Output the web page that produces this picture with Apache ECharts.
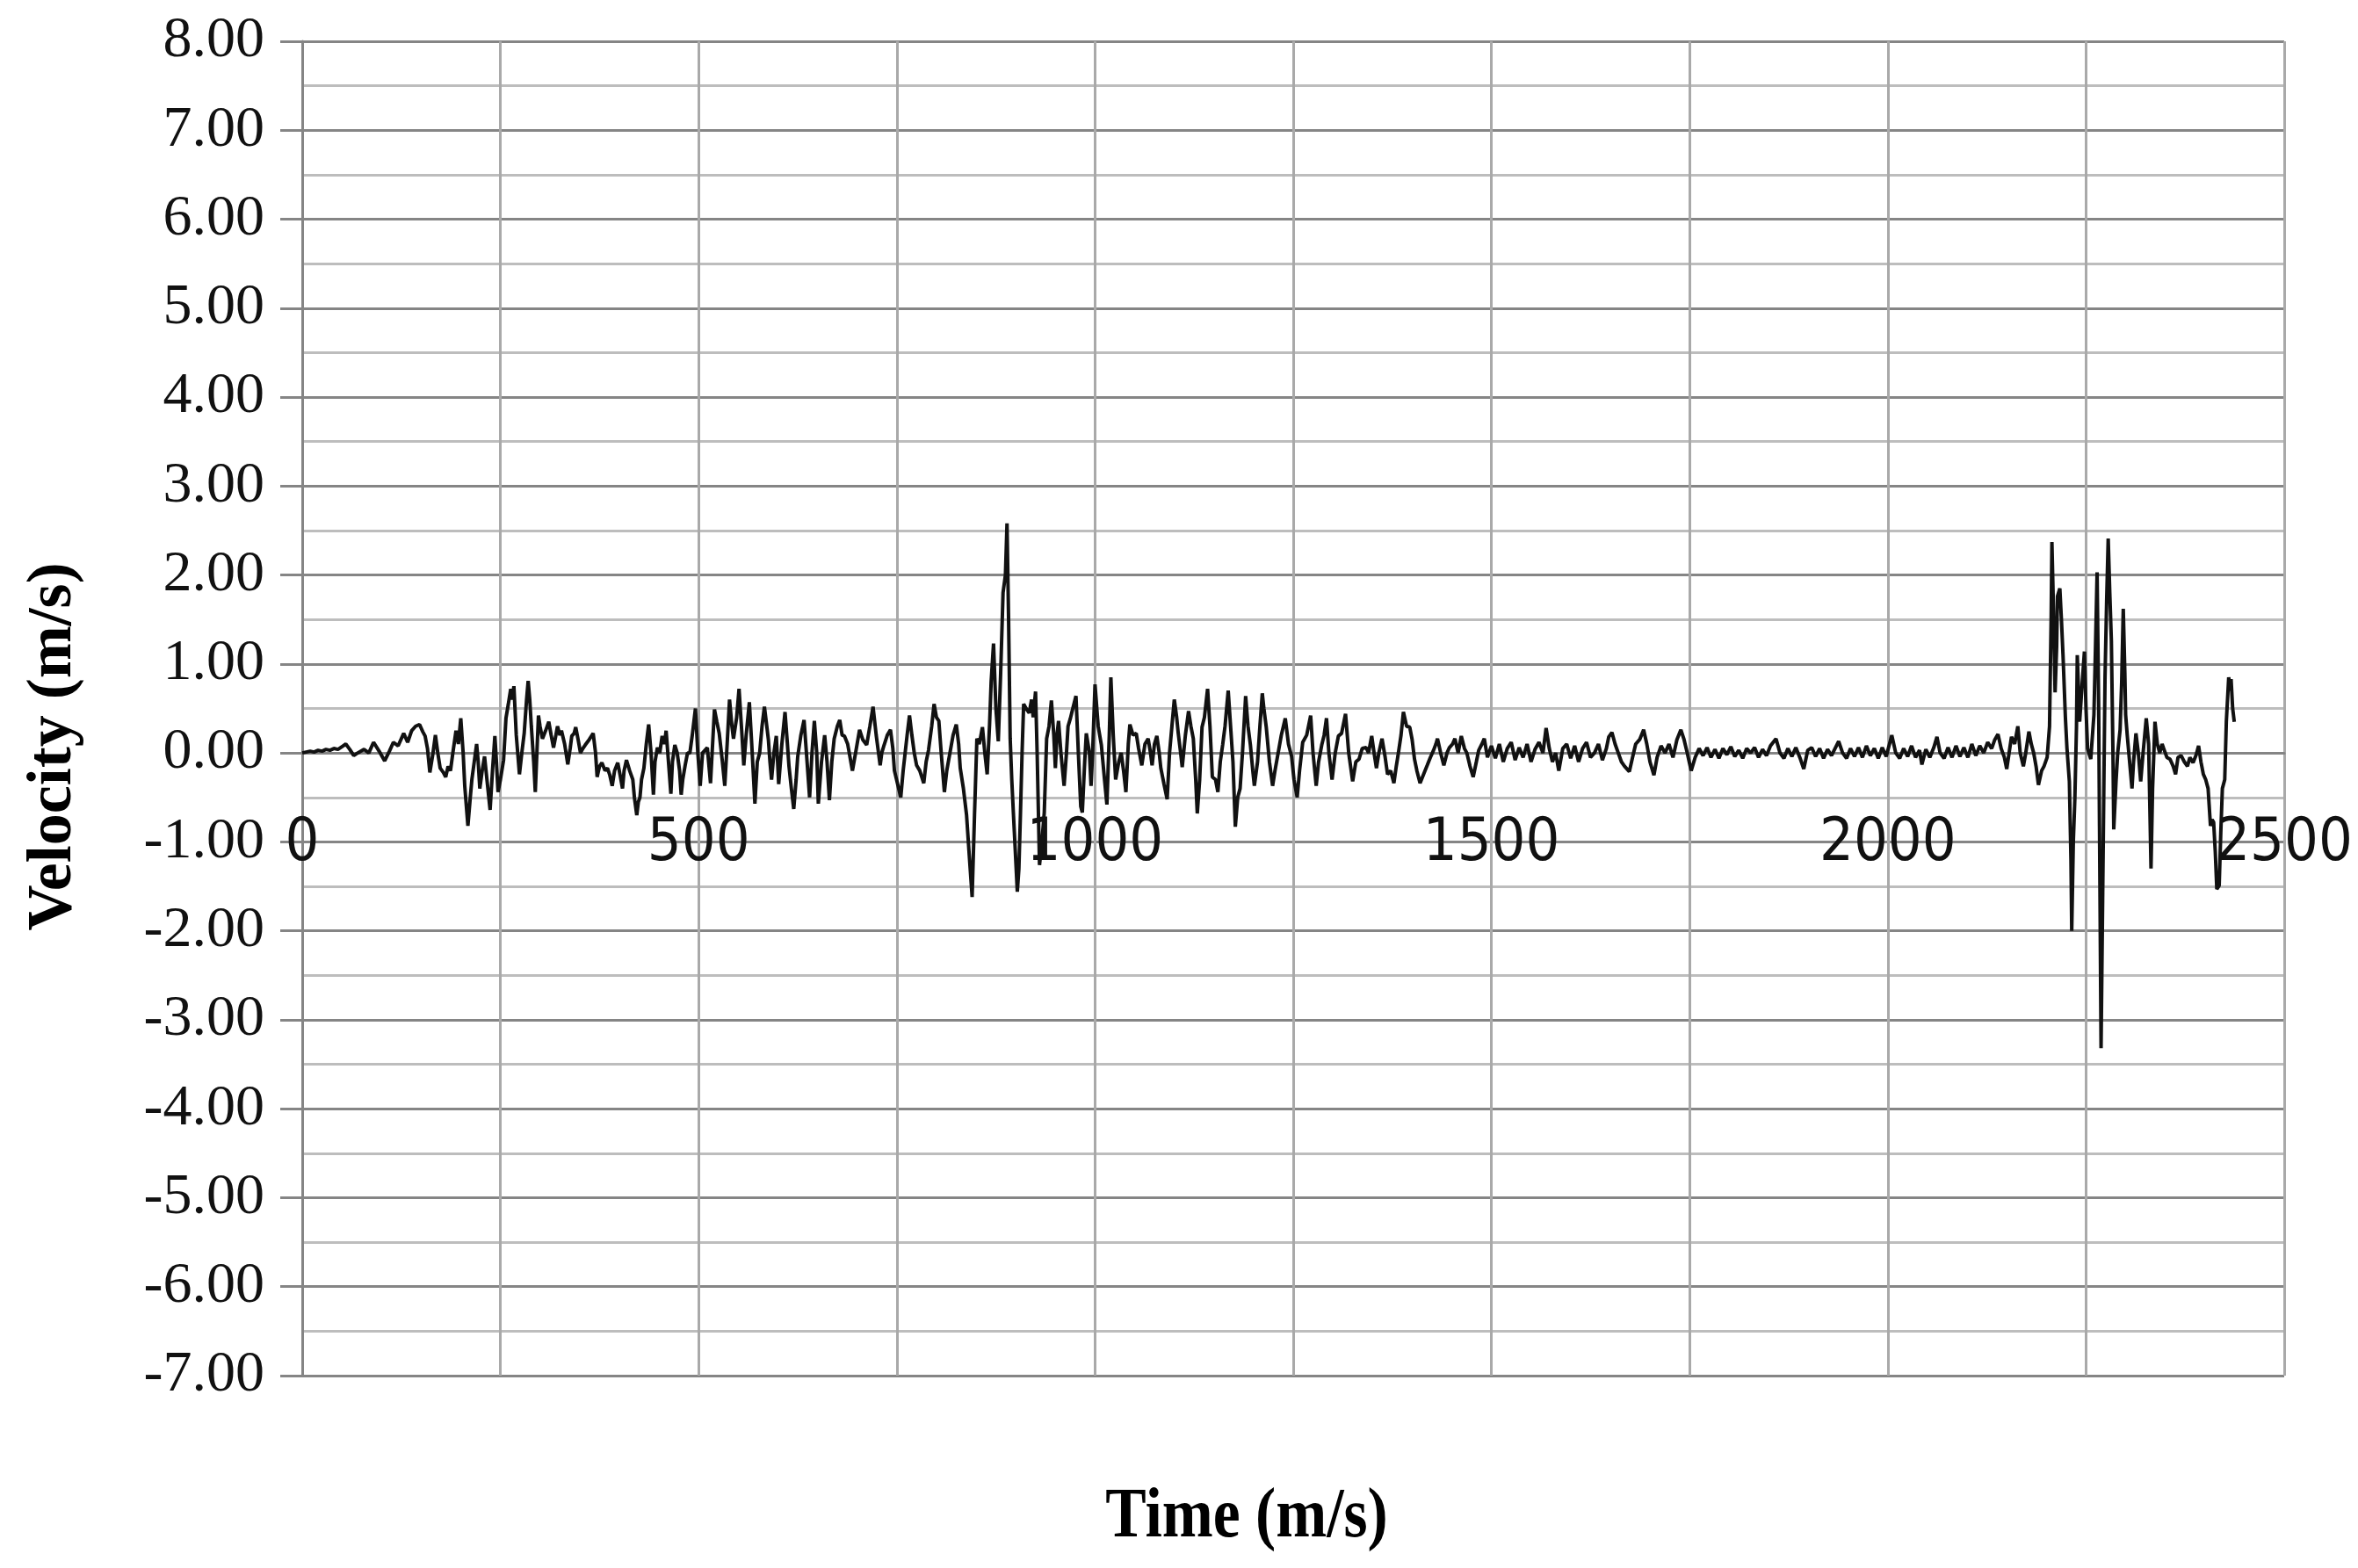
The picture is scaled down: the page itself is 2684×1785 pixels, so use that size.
<!DOCTYPE html>
<html>
<head>
<meta charset="utf-8">
<script src="https://cdn.jsdelivr.net/npm/echarts@6/dist/echarts.min.js"></script>
<style>
html,body{margin:0;padding:0;background:#fff;}
#chart{width:2684px;height:1785px;}
</style>
</head>
<body>
<div id="chart"></div>
<script>
// ---- data ----
const xTickLabels = ['0', '500', '1000', '1500', '2000', '2500'];
const yAxisTitle = 'Velocity (m/s)';
const xAxisTitle = 'Time (m/s)';
// [time, velocity] samples
const velocitySamples = [
[0,0.0],[5,0.01],[10,0.02],[15,0.01],[20,0.03],[25,0.02],[30,0.04],[35,0.03],[40,0.05],[45,0.04],[50,0.07],[55,0.1],[60,0.04],[65,-0.03],[70,0.0],[78,0.04],[84,0.0],[90,0.12],[97,0.02],[104,-0.09],[110,0.02],[115,0.12],[121,0.08],[128,0.22],[133,0.12],[138,0.25],[143,0.3],[148,0.32],[152,0.24],[155,0.19],[158,0.05],[161,-0.22],[165,0.0],[168,0.2],[171,0.0],[174,-0.17],[178,-0.22],[181,-0.27],[184,-0.15],[187,-0.2],[190,0.0],[194,0.25],[197,0.1],[200,0.39],[203,0.0],[205,-0.37],[209,-0.82],[212,-0.5],[214,-0.3],[217,-0.1],[220,0.1],[222,-0.1],[224,-0.4],[227,-0.2],[230,-0.04],[233,-0.3],[237,-0.64],[240,-0.2],[243,0.19],[245,-0.1],[247,-0.44],[250,-0.3],[254,-0.08],[257,0.39],[260,0.55],[263,0.72],[265,0.6],[267,0.75],[270,0.2],[274,-0.24],[277,0.0],[280,0.22],[283,0.6],[285,0.81],[287,0.6],[289,0.3],[292,-0.1],[294,-0.44],[296,0.0],[298,0.42],[300,0.3],[303,0.16],[307,0.25],[311,0.35],[314,0.2],[317,0.06],[320,0.2],[322,0.3],[325,0.2],[327,0.25],[331,0.1],[335,-0.13],[338,0.05],[340,0.19],[343,0.22],[345,0.29],[348,0.15],[351,0.0],[354,0.05],[357,0.09],[362,0.15],[367,0.22],[370,0.0],[372,-0.27],[375,-0.15],[378,-0.11],[382,-0.2],[385,-0.17],[388,-0.25],[391,-0.37],[394,-0.2],[398,-0.11],[401,-0.25],[404,-0.4],[406,-0.2],[409,-0.08],[413,-0.2],[417,-0.3],[419,-0.5],[422,-0.7],[424,-0.55],[426,-0.5],[428,-0.3],[431,-0.17],[434,0.1],[437,0.32],[440,0.0],[443,-0.47],[445,-0.1],[448,0.06],[451,0.0],[454,0.19],[457,0.1],[459,0.25],[462,-0.1],[465,-0.46],[467,-0.1],[470,0.09],[473,0.0],[476,-0.2],[478,-0.47],[480,-0.3],[483,-0.14],[486,0.0],[489,0.0],[492,0.2],[496,0.5],[499,0.0],[502,-0.37],
[505,0.0],[511,0.06],[515,-0.34],[520,0.49],[523,0.35],[526,0.22],[530,-0.1],[533,-0.37],[536,0.1],[539,0.6],[542,0.3],[544,0.16],[548,0.4],[551,0.72],[554,0.3],[557,-0.14],[560,0.2],[564,0.57],[567,0.1],[571,-0.57],[574,-0.1],[577,0.0],[580,0.3],[583,0.52],[586,0.3],[588,0.15],[590,-0.1],[592,-0.3],[595,0.0],[598,0.19],[601,-0.35],[605,0.1],[609,0.46],[612,0.1],[614,-0.15],[617,-0.4],[620,-0.63],[623,-0.3],[625,-0.04],[629,0.2],[633,0.37],[636,0.0],[640,-0.5],[643,0.0],[646,0.36],[649,0.0],[651,-0.57],[655,-0.1],[659,0.2],[662,-0.1],[665,-0.53],[668,-0.1],[671,0.16],[675,0.3],[678,0.37],[681,0.2],[684,0.19],[688,0.1],[691,-0.05],[694,-0.2],[698,0.0],[703,0.26],[707,0.15],[712,0.09],[716,0.3],[720,0.52],[724,0.2],[729,-0.14],[731,0.0],[734,0.09],[738,0.2],[742,0.26],[745,0.05],[747,-0.2],[751,-0.35],[755,-0.5],[758,-0.2],[760,-0.04],[763,0.2],[766,0.42],[769,0.2],[772,0.0],[775,-0.14],[779,-0.2],[784,-0.34],[787,-0.1],[790,0.03],[794,0.3],[797,0.55],[800,0.4],[803,0.36],[806,0.0],[810,-0.44],[813,-0.2],[817,0.0],[821,0.2],[825,0.32],[828,0.1],[830,-0.17],[834,-0.4],[838,-0.7],[841,-1.1],[845,-1.62],[848,-0.7],[851,0.16],[854,0.1],[858,0.29],[861,0.0],[864,-0.24],[867,0.32],[869,0.8],[872,1.23],[875,0.5],[878,0.13],[881,0.9],[884,1.8],[887,2.0],[889,2.58],[891,1.5],[893,0.16],[895,-0.3],[897,-0.67],[900,-1.2],[902,-1.56],[904,-1.3],[906,-0.67],[908,0.0],[910,0.55],[913,0.5],[917,0.45],[920,0.6],[922,0.4],[925,0.69],[927,0.0],[930,-1.26],[933,-1.0],[936,-0.67],[939,0.16],[942,0.3],[945,0.59],[948,0.2],[950,-0.17],[952,0.2],[954,0.36],[957,0.0],[961,-0.37],[964,0.0],[966,0.3],[969,0.39],[972,0.5],[976,0.64],[979,0.0],[982,-0.6],[984,-0.67],[987,-0.1],[989,0.22],[991,0.22],[993,0.0],[995,-0.37],[997,0.0],[1000,0.77],
[1004,0.3],[1008,0.09],[1012,-0.3],[1015,-0.58],[1018,0.2],[1020,0.85],[1023,0.2],[1026,-0.3],[1030,-0.1],[1033,0.0],[1036,-0.2],[1039,-0.44],[1042,0.1],[1044,0.32],[1048,0.2],[1052,0.22],[1055,0.05],[1059,-0.14],[1063,0.1],[1067,0.16],[1070,0.0],[1072,-0.14],[1075,0.1],[1078,0.19],[1081,0.0],[1083,-0.17],[1087,-0.35],[1091,-0.52],[1094,0.0],[1097,0.3],[1100,0.6],[1103,0.4],[1105,0.22],[1108,0.0],[1110,-0.16],[1114,0.2],[1118,0.47],[1121,0.3],[1124,0.16],[1127,-0.3],[1129,-0.68],[1132,-0.3],[1135,0.29],[1138,0.4],[1142,0.72],[1145,0.3],[1148,-0.27],[1152,-0.3],[1155,-0.44],[1158,-0.1],[1161,0.09],[1164,0.3],[1168,0.7],[1171,0.3],[1174,-0.1],[1177,-0.83],[1180,-0.5],[1183,-0.4],[1186,0.0],[1190,0.64],[1193,0.3],[1196,0.09],[1199,-0.2],[1201,-0.37],[1205,-0.1],[1208,0.3],[1211,0.67],[1213,0.5],[1216,0.29],[1220,-0.1],[1224,-0.37],[1227,-0.2],[1231,0.0],[1235,0.2],[1240,0.39],[1244,0.1],[1248,-0.04],[1251,-0.3],[1255,-0.5],[1258,-0.2],[1262,0.12],[1267,0.2],[1272,0.42],[1275,0.0],[1279,-0.37],[1282,-0.1],[1286,0.09],[1289,0.2],[1292,0.39],[1295,0.0],[1299,-0.3],[1303,0.0],[1307,0.19],[1311,0.22],[1316,0.44],[1320,0.0],[1325,-0.32],[1329,-0.1],[1333,-0.07],[1337,0.05],[1342,0.06],[1345,0.0],[1349,0.19],[1352,0.0],[1355,-0.17],[1358,0.0],[1362,0.16],[1366,-0.05],[1369,-0.24],[1373,-0.2],[1377,-0.34],[1380,-0.15],[1382,-0.04],[1386,0.2],[1389,0.46],[1393,0.3],[1397,0.29],[1400,0.15],[1403,-0.07],[1406,-0.2],[1410,-0.34],[1414,-0.25],[1419,-0.14],[1423,-0.05],[1427,0.03],[1430,0.1],[1432,0.16],[1436,0.0],[1440,-0.14],[1444,0.0],[1447,0.06],[1451,0.1],[1454,0.16],[1458,0.0],[1462,0.19],[1466,0.05],[1469,0.0],[1473,-0.15],[1477,-0.27],[1481,-0.1],[1484,0.03],[1488,0.1],[1491,0.16],[1495,-0.05],
[1500,0.08],[1505,-0.06],[1510,0.1],[1515,-0.1],[1520,0.05],[1525,0.12],[1530,-0.08],[1535,0.06],[1540,-0.05],[1545,0.1],[1550,-0.1],[1555,0.04],[1560,0.12],[1565,0.0],[1569,0.28],[1573,0.05],[1577,-0.1],[1581,0.0],[1585,-0.2],[1590,0.05],[1595,0.1],[1600,-0.06],[1605,0.08],[1610,-0.1],[1615,0.05],[1620,0.12],[1625,-0.05],[1630,0.0],[1635,0.1],[1640,-0.08],[1645,0.05],[1648,0.18],[1652,0.23],[1656,0.1],[1660,0.0],[1664,-0.1],[1668,-0.15],[1674,-0.21],[1678,-0.05],[1682,0.1],[1687,0.15],[1692,0.26],[1696,0.1],[1700,-0.1],[1705,-0.25],[1709,-0.05],[1714,0.08],[1719,0.0],[1724,0.1],[1729,-0.05],[1734,0.15],[1739,0.26],[1743,0.15],[1747,0.0],[1752,-0.2],[1757,-0.05],[1762,0.05],[1767,-0.03],[1772,0.06],[1777,-0.05],[1782,0.04],[1787,-0.06],[1792,0.05],[1797,-0.02],[1802,0.07],[1807,-0.04],[1812,0.03],[1817,-0.06],[1822,0.05],[1827,0.0],[1832,0.06],[1837,-0.05],[1842,0.04],[1847,-0.03],[1852,0.08],[1859,0.16],[1864,0.0],[1869,-0.06],[1874,0.05],[1879,-0.04],[1884,0.06],[1889,-0.05],[1894,-0.18],[1899,0.03],[1904,0.06],[1909,-0.04],[1914,0.05],[1919,-0.06],[1924,0.04],[1929,-0.03],[1934,0.06],[1938,0.13],[1943,0.0],[1948,-0.06],[1953,0.05],[1958,-0.04],[1963,0.06],[1968,-0.05],[1973,0.08],[1978,-0.03],[1983,0.05],[1988,-0.06],[1993,0.06],[1998,-0.04],[2005,0.2],[2010,0.0],[2015,-0.06],[2020,0.05],[2025,-0.04],[2030,0.08],[2035,-0.05],[2040,0.03],[2043,-0.13],[2048,0.04],[2053,-0.05],[2058,0.06],[2062,0.18],[2066,0.0],[2071,-0.06],[2076,0.06],[2081,-0.05],[2086,0.08],[2091,-0.04],[2096,0.06],[2101,-0.05],[2106,0.1],[2111,-0.03],[2116,0.08],[2121,0.0],[2126,0.12],[2131,0.05],[2135,0.15],[2139,0.21],[2143,0.05],
[2147,-0.05],[2150,-0.18],[2153,0.0],[2156,0.18],[2160,0.1],[2164,0.3],[2167,0.0],[2171,-0.15],[2174,0.0],[2178,0.24],[2181,0.1],[2184,0.0],[2187,-0.15],[2190,-0.36],[2194,-0.2],[2197,-0.15],[2201,-0.05],[2204,0.3],[2206,1.5],[2207,2.37],[2209,1.6],[2211,0.68],[2213,1.2],[2214,1.76],[2217,1.85],[2219,1.5],[2221,1.1],[2224,0.4],[2226,0.05],[2229,-0.32],[2231,-1.2],[2232,-2.0],[2234,-1.0],[2236,-0.5],[2238,0.3],[2239,1.1],[2242,0.35],[2245,0.76],[2248,1.14],[2250,0.5],[2252,0.05],[2256,-0.07],[2260,0.43],[2262,1.2],[2264,2.03],[2266,0.5],[2267,-0.82],[2269,-3.32],[2271,-1.65],[2274,0.85],[2276,1.7],[2278,2.41],[2280,1.8],[2282,1.26],[2284,0.0],[2285,-0.86],[2288,-0.3],[2290,0.0],[2293,0.26],[2295,0.8],[2297,1.62],[2299,0.9],[2300,0.43],[2302,0.2],[2304,0.0],[2306,-0.2],[2308,-0.4],[2310,-0.1],[2313,0.22],[2316,0.0],[2319,-0.32],[2322,0.0],[2326,0.39],[2329,0.1],[2332,-1.3],[2334,-0.4],[2337,0.35],[2340,0.1],[2343,0.0],[2346,0.1],[2348,0.05],[2352,-0.05],[2356,-0.07],[2360,-0.15],[2363,-0.24],[2366,-0.05],[2370,-0.03],[2374,-0.1],[2378,-0.15],[2381,-0.05],[2385,-0.11],[2389,-0.02],[2392,0.08],[2395,-0.1],[2398,-0.24],[2401,-0.3],[2404,-0.4],[2407,-0.82],[2409,-0.75],[2411,-0.78],[2413,-1.1],[2415,-1.53],[2418,-1.49],[2420,-0.9],[2422,-0.4],[2425,-0.3],[2427,0.35],[2430,0.85],[2432,0.7],[2433,0.83],[2435,0.5],[2437,0.35]
];

// ---- chart ----
const chart = echarts.init(document.getElementById('chart'), null, {renderer: 'canvas'});
const majorGray = '#858585';
const minorGray = '#bdbdbd';
const vertGray = '#a9a9a9';

const option = {
  animation: false,
  backgroundColor: '#ffffff',
  grid: {left: 344, right: 84, top: 47, bottom: 219, containLabel: false},
  xAxis: {
    type: 'value',
    min: 0, max: 2500, interval: 250,
    offset: 0,
    axisLine: {show: true, onZero: false, lineStyle: {color: majorGray, width: 3}},
    axisTick: {show: false},
    splitLine: {show: true, lineStyle: {color: vertGray, width: 3}},
    axisLabel: {
      margin: 70,
      fontSize: 68,
      fontFamily: '"Liberation Sans Narrow", "DejaVu Sans Condensed", "Open Sans", "Liberation Sans", sans-serif',
      color: '#111',
      showMinLabel: true, showMaxLabel: true,
      hideOverlap: false,
      formatter: function (v) {
        const i = xTickLabels.indexOf(String(v));
        return i >= 0 ? xTickLabels[i] : '';
      }
    }
  },
  yAxis: {
    type: 'value',
    min: -7, max: 8, interval: 1,
    axisLine: {show: true, lineStyle: {color: majorGray, width: 3}},
    axisTick: {show: true, length: 25, lineStyle: {color: majorGray, width: 3}},
    minorTick: {show: false, splitNumber: 2},
    minorSplitLine: {show: true, lineStyle: {color: minorGray, width: 3}},
    splitLine: {show: true, lineStyle: {color: majorGray, width: 3}},
    axisLabel: {
      margin: 43,
      fontSize: 66,
      fontFamily: '"Liberation Serif", "DejaVu Serif", serif',
      color: '#111',
      formatter: function (v) { return v.toFixed(2); }
    }
  },
  graphic: [
    {
      type: 'text', x: 61, y: 850, rotation: Math.PI / 2,
      style: {
        text: yAxisTitle, fill: '#000',
        font: 'bold 72px "Liberation Serif", "DejaVu Serif", serif',
        align: 'center', verticalAlign: 'middle',
        textAlign: 'center', textVerticalAlign: 'middle'
      }
    },
    {
      type: 'text', x: 1419, y: 1728, scaleX: 0.87,
      style: {
        text: xAxisTitle, fill: '#000',
        font: 'bold 80px "Liberation Serif", "DejaVu Serif", serif',
        align: 'center', verticalAlign: 'middle',
        textAlign: 'center', textVerticalAlign: 'middle'
      }
    }
  ],
  series: [{
    type: 'line',
    data: velocitySamples,
    showSymbol: false,
    symbol: 'none',
    smooth: false,
    lineStyle: {color: '#111111', width: 4},
    z: 5
  }]
};
chart.setOption(option);

// move the time axis (line + labels) up to the zero velocity level, as in the reference
const yZero = chart.convertToPixel({yAxisIndex: 0}, 0);
const yBottom = chart.convertToPixel({yAxisIndex: 0}, -7);
chart.setOption({xAxis: {offset: -(yBottom - yZero)}});
</script>
</body>
</html>
